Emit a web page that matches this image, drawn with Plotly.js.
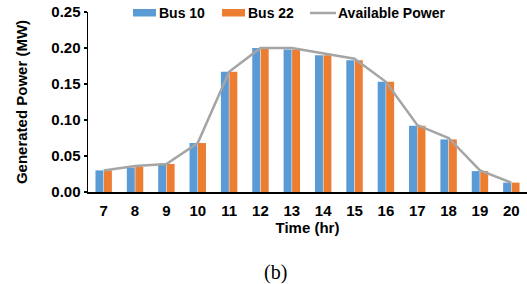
<!DOCTYPE html>
<html>
<head>
<meta charset="utf-8">
<script src="https://cdn.plot.ly/plotly-3.0.1.min.js"></script>
<style>
html,body{margin:0;padding:0;background:#fff;}
#chart{width:527px;height:284px;}
</style>
</head>
<body>
<div id="chart"></div>
<script>
var hours = ['7','8','9','10','11','12','13','14','15','16','17','18','19','20'];
var bus10 = [0.030,0.034,0.038,0.068,0.167,0.200,0.198,0.190,0.183,0.153,0.092,0.073,0.029,0.013];
var bus22 = [0.030,0.035,0.039,0.068,0.167,0.199,0.198,0.190,0.183,0.153,0.092,0.073,0.029,0.013];
var available = [0.030,0.036,0.039,0.068,0.167,0.200,0.200,0.192,0.185,0.153,0.093,0.075,0.030,0.013];
var yTicks = [0,0.05,0.10,0.15,0.20,0.25];
var yTickText = ['0.00','0.05','0.10','0.15','0.20','0.25'];
var seriesNames = ['Bus 10','Bus 22','Available Power'];
var colors = ['#5B9BD5','#ED7D31','#A5A5A5'];

var FAM = 'Liberation Sans, Arial, sans-serif';
var font = {family:FAM, size:15, color:'#000', weight:'bold'};
var legFont = {family:FAM, size:14, color:'#000', weight:'bold'};

// plot area in pixels: x 88..527, y 12..192
function px(x){ return (x-88)/439; }
function py(y){ return (192-y)/180; }

var traces = [
  {type:'bar', name:seriesNames[0], x:hours, y:bus10, marker:{color:colors[0]}},
  {type:'bar', name:seriesNames[1], x:hours, y:bus22, marker:{color:colors[1]}},
  {type:'scatter', mode:'lines', name:seriesNames[2], x:hours, y:available,
   line:{color:colors[2], width:2.5}}
];

var shapes = [
  {type:'rect', xref:'paper', yref:'paper', x0:px(133), x1:px(156), y0:py(16.5), y1:py(9), fillcolor:colors[0], line:{width:0}},
  {type:'rect', xref:'paper', yref:'paper', x0:px(222), x1:px(245), y0:py(16.5), y1:py(9), fillcolor:colors[1], line:{width:0}},
  {type:'line', xref:'paper', yref:'paper', x0:px(310), x1:px(336), y0:py(13), y1:py(13), line:{color:colors[2], width:2.5}}
];

var annotations = [
  {text:seriesNames[0], xref:'paper', yref:'paper', x:px(157), y:py(13), xanchor:'left', yanchor:'middle', showarrow:false, font:legFont},
  {text:seriesNames[1], xref:'paper', yref:'paper', x:px(246), y:py(13), xanchor:'left', yanchor:'middle', showarrow:false, font:legFont},
  {text:seriesNames[2], xref:'paper', yref:'paper', x:px(336), y:py(13), xanchor:'left', yanchor:'middle', showarrow:false, font:legFont},
  {text:'(b)', xref:'paper', yref:'paper', x:px(275), y:py(272), xanchor:'center', yanchor:'middle',
   showarrow:false, font:{family:'Liberation Serif, Times New Roman, serif', size:20, color:'#000', weight:'normal'}}
];

var layout = {
  width:527, height:284,
  margin:{l:88, r:0, t:12, b:92},
  paper_bgcolor:'#fff', plot_bgcolor:'#fff',
  barmode:'group', bargap:0.46, bargroupgap:0.06,
  showlegend:false,
  font:font,
  xaxis:{type:'category', showline:true, linecolor:'#000', linewidth:1.5,
         ticks:'', showgrid:false, zeroline:false, automargin:false,
         tickfont:font, ticklabelstandoff:4,
         title:{text:'Time (hr)', font:font, standoff:2}},
  yaxis:{range:[0,0.25], tickvals:yTicks, ticktext:yTickText,
         showline:true, linecolor:'#000', linewidth:1.5, automargin:false,
         ticks:'outside', ticklen:3, tickcolor:'#000', tickwidth:1.5, showgrid:false, zeroline:false,
         tickfont:font,
         title:{text:'Generated Power (MW)', font:font, standoff:20}},
  shapes:shapes,
  annotations:annotations
};

Plotly.newPlot('chart', traces, layout, {displayModeBar:false, staticPlot:true});
</script>
</body>
</html>
